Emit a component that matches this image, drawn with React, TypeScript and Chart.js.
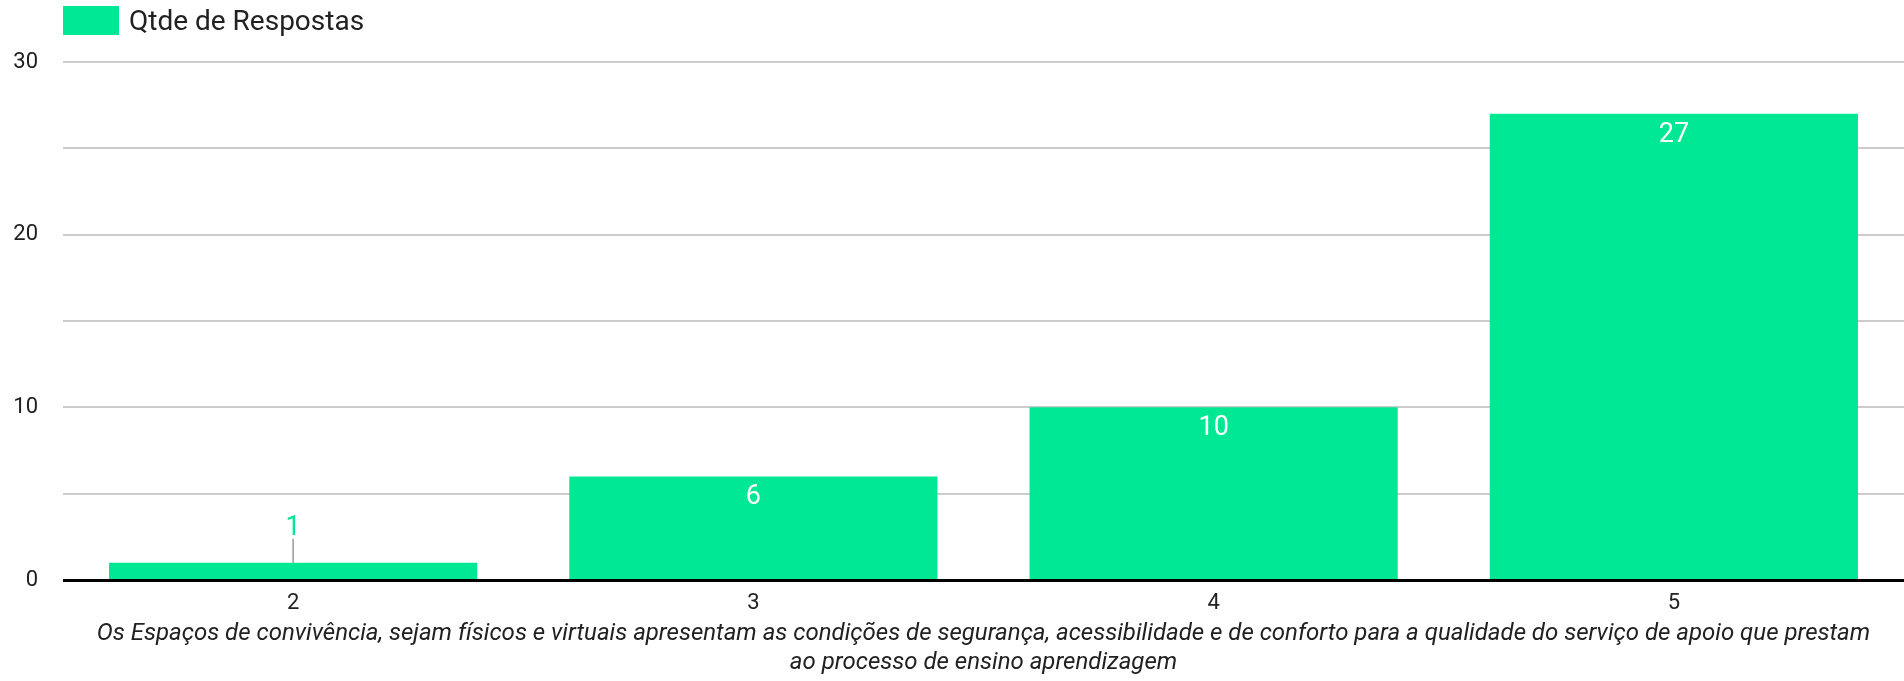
import React, { useEffect, useRef } from "react";
import { Chart, registerables } from "chart.js";

Chart.register(...registerables);

const categories = ["2", "3", "4", "5"];
const responses = [1, 6, 10, 27];
const seriesLabel = "Qtde de Respostas";
const axisTitle = [
  "Os Espaços de convivência, sejam físicos e virtuais apresentam as condições de segurança, acessibilidade e de conforto para a qualidade do serviço de apoio que prestam",
  "ao processo de ensino aprendizagem",
];
const yMax = 30;
const yStep = 5;
const yLabelEvery = 10;

const GREEN = "#00e893";
const TEXT = "#212121";

const overlayPlugin = {
  id: "overlay",
  afterDatasetsDraw(chart: any) {
    const { ctx, chartArea } = chart;
    ctx.save();
    // baseline axis
    ctx.strokeStyle = "#000";
    ctx.lineWidth = 3;
    ctx.beginPath();
    ctx.moveTo(chartArea.left, chartArea.bottom + 0.5);
    ctx.lineTo(chartArea.right, chartArea.bottom + 0.5);
    ctx.stroke();

    const meta = chart.getDatasetMeta(0);
    ctx.font = "27px Roboto";
    ctx.textAlign = "center";
    ctx.textBaseline = "middle";
    meta.data.forEach((bar: any, i: number) => {
      const v = chart.data.datasets[0].data[i];
      const { x, y, base } = bar.getProps(["x", "y", "base"], true);
      if (base - y > 40) {
        ctx.fillStyle = "#ffffff";
        ctx.fillText(String(v), x, y + 21);
      } else {
        ctx.fillStyle = GREEN;
        ctx.fillText(String(v), x, y - 34);
        ctx.strokeStyle = "#999999";
        ctx.lineWidth = 1.5;
        ctx.beginPath();
        ctx.moveTo(x, y - 24);
        ctx.lineTo(x, y);
        ctx.stroke();
      }
    });

    // legend
    ctx.fillStyle = GREEN;
    ctx.fillRect(chartArea.left, 6, 56, 29);
    ctx.fillStyle = TEXT;
    ctx.font = "28px Roboto";
    ctx.textAlign = "left";
    ctx.textBaseline = "middle";
    ctx.fillText(chart.data.datasets[0].label, chartArea.left + 66, 23);
    ctx.restore();
  },
};

export default function App() {
  const ref = useRef<HTMLCanvasElement | null>(null);

  useEffect(() => {
    document.body.style.margin = "0";
    if (!ref.current) return;
    Chart.defaults.font.family = "Roboto";
    const chart = new Chart(ref.current, {
      type: "bar",
      data: {
        labels: categories,
        datasets: [
          {
            label: seriesLabel,
            data: responses,
            backgroundColor: GREEN,
            borderWidth: 0,
            categoryPercentage: 0.8,
            barPercentage: 1,
          },
        ],
      },
      options: {
        animation: false,
        responsive: false,
        maintainAspectRatio: false,
        layout: { padding: { top: 62, right: 0, left: 0, bottom: 0 } },
        plugins: {
          legend: { display: false },
          tooltip: { enabled: false },
        },
        scales: {
          x: {
            grid: { display: false, drawTicks: false },
            border: { display: false },
            ticks: { color: TEXT, font: { size: 22 }, padding: 10 },
            title: {
              display: true,
              text: axisTitle,
              color: TEXT,
              font: { size: 24, style: "italic", lineHeight: 1.21 },
              padding: { top: 0, bottom: 3 },
            },
            afterFit(scale: any) {
              scale.height = 101;
            },
          },
          y: {
            min: 0,
            max: yMax,
            grid: { color: "#cccccc", lineWidth: 2, drawTicks: false },
            border: { display: false },
            ticks: {
              stepSize: yStep,
              color: TEXT,
              font: { size: 22 },
              padding: 25,
              callback: (v: any) => (Number(v) % yLabelEvery === 0 ? String(v) : ""),
            },
            afterFit(scale: any) {
              scale.width = 63;
            },
          },
        },
      },
      plugins: [overlayPlugin],
    });
    return () => chart.destroy();
  }, []);

  return (
    <div style={{ width: 1904, height: 681 }}>
      <canvas ref={ref} width={1904} height={681} style={{ display: "block" }} />
    </div>
  );
}
